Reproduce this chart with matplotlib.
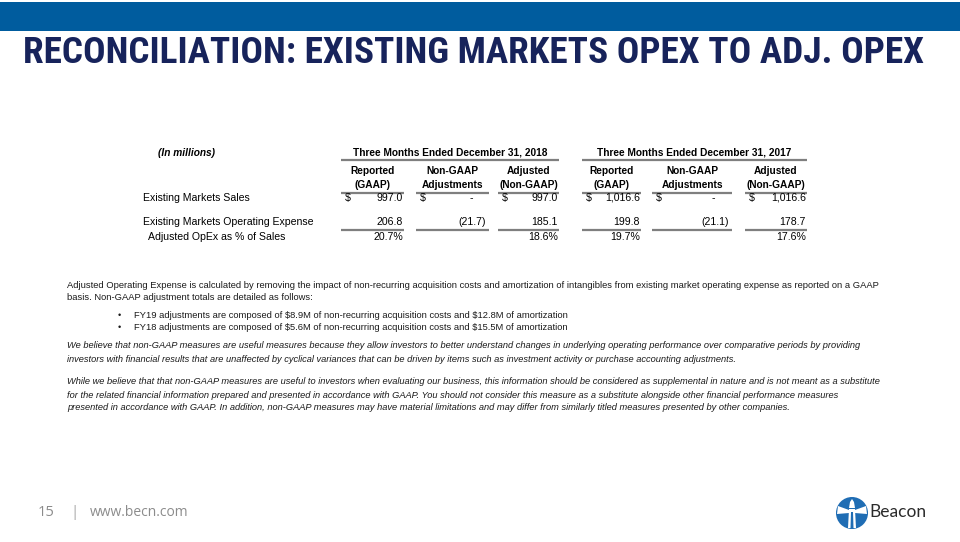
import matplotlib
matplotlib.use("Agg")
import matplotlib.pyplot as plt
from matplotlib import font_manager
from matplotlib.patches import Rectangle, Circle, Polygon

# ---------------- data ----------------
title = "RECONCILIATION: EXISTING MARKETS OPEX TO ADJ. OPEX"
unit_label = "(In millions)"
period_labels = ["Three Months Ended December 31, 2018", "Three Months Ended December 31, 2017"]
col_headers = [("Reported", "(GAAP)"), ("Non-GAAP", "Adjustments"), ("Adjusted", "(Non-GAAP)")]
row_labels = ["Existing Markets Sales", "Existing Markets Operating Expense", "Adjusted OpEx as % of Sales"]
sales_2018 = [997.0, 0.0, 997.0]
opex_2018 = [206.8, -21.7, 185.1]
pct_2018 = ["20.7%", "", "18.6%"]
sales_2017 = [1016.6, 0.0, 1016.6]
opex_2017 = [199.8, -21.1, 178.7]
pct_2017 = ["19.7%", "", "17.6%"]
para1 = ["Adjusted Operating Expense is calculated by removing the impact of non-recurring acquisition costs and amortization of intangibles from existing market operating expense as reported on a GAAP",
         "basis. Non-GAAP adjustment totals are detailed as follows:"]
bullets = ["FY19 adjustments are composed of $8.9M of non-recurring acquisition costs and $12.8M of amortization",
           "FY18 adjustments are composed of $5.6M of non-recurring acquisition costs and $15.5M of amortization"]
para2 = ["We believe that non-GAAP measures are useful measures because they allow investors to better understand changes in underlying operating performance over comparative periods by providing",
         "investors with financial results that are unaffected by cyclical variances that can be driven by items such as investment activity or purchase accounting adjustments."]
para3 = ["While we believe that that non-GAAP measures are useful to investors when evaluating our business, this information should be considered as supplemental in nature and is not meant as a substitute",
         "for the related financial information prepared and presented in accordance with GAAP. You should not consider this measure as a substitute alongside other financial performance measures",
         "presented in accordance with GAAP. In addition, non-GAAP measures may have material limitations and may differ from similarly titled measures presented by other companies."]
page_number = "15"
site = "www.becn.com"
brand = "Beacon"

# ---------------- fonts ----------------
avail = {f.name for f in font_manager.fontManager.ttflist}
def pick(*names):
    for n in names:
        if n in avail:
            return n
    return "DejaVu Sans"
SANS = pick("Liberation Sans", "Arial", "DejaVu Sans")
NARROW = pick("Liberation Sans Narrow", "Roboto Condensed", "Open Sans Condensed", "Noto Sans", "DejaVu Sans")

fig = plt.figure(figsize=(9.6, 5.42), dpi=100)
ax = fig.add_axes([0, 0, 1, 1])
ax.set_xlim(0, 960)
ax.set_ylim(542, 0)
ax.axis("off")

def T(x, y, s, **kw):
    kw.setdefault("family", SANS)
    kw.setdefault("va", "center")
    kw.setdefault("ha", "left")
    return ax.text(x, y, s, parse_math=False, **kw)

# top band
ax.add_patch(Rectangle((0, 1.5), 960, 29, color="#005C9E", lw=0))

# title, sized to fit the reference width
NAVY = "#17235B"
t = T(23, 53, title, fontsize=28, fontweight="bold", family=NARROW, color=NAVY)
fig.canvas.draw()
w = t.get_window_extent(fig.canvas.get_renderer()).width
t.set_fontsize(28 * 902.0 / w)

# ---------------- table ----------------
fs = 7.6
fsb = 7.3
LINE = "#7F7F7F"
T(158, 153, unit_label, fontsize=fsb, style="italic", fontweight="bold")

groups = [
    dict(x0=341, x1=559, cols=[(341, 404), (416, 489), (498, 559)],
         sales=sales_2018, opex=opex_2018, pct=pct_2018, label=period_labels[0]),
    dict(x0=582, x1=807, cols=[(582, 641), (652, 732), (745, 807)],
         sales=sales_2017, opex=opex_2017, pct=pct_2017, label=period_labels[1]),
]

def fmt(v):
    if v == 0:
        return "-"
    if v < 0:
        return "({:,.1f})".format(-v)
    return "{:,.1f}".format(v)

y_period, y_h1, y_h2, y_sales, y_opex, y_pct = 152.5, 171.5, 185, 198, 222, 237
for g in groups:
    T((g["x0"] + g["x1"]) / 2, y_period, g["label"], fontsize=fsb, fontweight="bold", ha="center")
    ax.plot([g["x0"], g["x1"]], [160, 160], color=LINE, lw=1.6, solid_capstyle="butt")
    for i, (a, b) in enumerate(g["cols"]):
        c = (a + b) / 2
        T(c, y_h1, col_headers[i][0], fontsize=fsb, fontweight="bold", ha="center")
        T(c, y_h2, col_headers[i][1], fontsize=fsb, fontweight="bold", ha="center")
        ax.plot([a, b], [192.5, 192.5], color=LINE, lw=1.6, solid_capstyle="butt")
        ax.plot([a, b], [230, 230], color=LINE, lw=1.6, solid_capstyle="butt")
        T(a + 4, y_sales, "$", fontsize=fs)
        sv = fmt(g["sales"][i])
        if sv == "-":
            T(a + (b - a) * 0.76, y_sales, sv, fontsize=fs, ha="center")
        else:
            T(b - 1, y_sales, sv, fontsize=fs, ha="right")
        ov = fmt(g["opex"][i])
        T(b - (3 if ov.startswith("(") else 1), y_opex, ov, fontsize=fs, ha="right")
        if g["pct"][i]:
            T(b - 1, y_pct, g["pct"][i], fontsize=fs, ha="right")

T(143, y_sales, row_labels[0], fontsize=fs)
T(143, y_opex, row_labels[1], fontsize=fs)
T(148, y_pct, row_labels[2], fontsize=fs)

# ---------------- paragraphs ----------------
pfs = 6.75
ifs = 6.65
PC = "#1A1A1A"
for i, line in enumerate(para1):
    T(67, 285 + i * 13, line, fontsize=pfs, color=PC)
for i, line in enumerate(bullets):
    y = 315 + i * 12
    T(118, y, "\u2022", fontsize=pfs, color=PC)
    T(134, y, line, fontsize=pfs, color=PC)
for i, line in enumerate(para2):
    T(67, 346 + i * 14, line, fontsize=ifs, style="italic", color=PC)
for i, line in enumerate(para3):
    T(67, 382 + i * 13, line, fontsize=ifs, style="italic", color=PC)

# ---------------- footer ----------------
GREY = "#8C8C8C"
FOOT = pick("Open Sans", "Lato", "Noto Sans")
T(38, 513, page_number, fontsize=10.5, family=FOOT, color=GREY)
T(74, 512, "|", fontsize=11, family=FOOT, color="#A6A6A6", ha="center")
T(90, 513, site, fontsize=10, family=FOOT, color=GREY)

# logo
LB = "#1F6DB4"
cx, cy, r = 852, 513, 16
ax.add_patch(Circle((cx, cy), r, color=LB, lw=0))
ax.add_patch(Polygon([(cx - 14, cy - 7), (cx - 3, cy - 3), (cx - 3, cy), (cx - 15, cy + 1)], closed=True, color="white", lw=0))
ax.add_patch(Polygon([(cx + 14, cy - 7), (cx + 3, cy - 3), (cx + 3, cy), (cx + 15, cy + 1)], closed=True, color="white", lw=0))
ax.add_patch(Polygon([(cx - 3, cy - 4), (cx + 3, cy - 4), (cx + 4, cy + 15), (cx - 4, cy + 15)], closed=True, color="white", lw=0))
ax.add_patch(Polygon([(cx - 1, cy - 1), (cx + 1, cy - 1), (cx + 1.5, cy + 15), (cx - 1.5, cy + 15)], closed=True, color=LB, lw=0))
ax.add_patch(Polygon([(cx - 2, cy - 11), (cx + 2, cy - 11), (cx + 3, cy - 5), (cx - 3, cy - 5)], closed=True, color="white", lw=0))
ax.add_patch(Polygon([(cx - 2, cy - 11), (cx + 2, cy - 11), (cx, cy - 14)], closed=True, color="white", lw=0))
T(869, 512, brand, fontsize=12.5, family=pick("Lato", "Open Sans", "Noto Sans"), color="#2B2B2B")

fig.savefig("out.png", dpi=100)
